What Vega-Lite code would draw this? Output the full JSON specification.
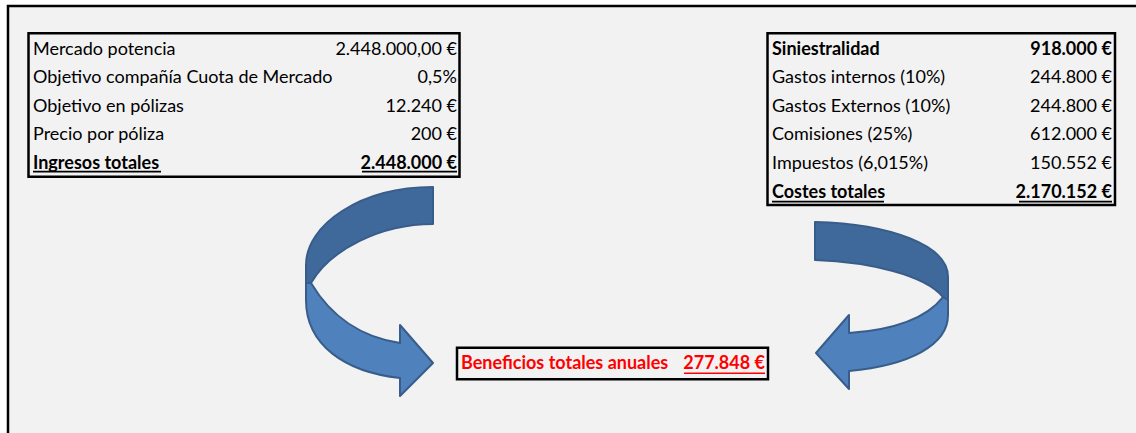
{
  "$schema": "https://vega.github.io/schema/vega-lite/v6.json",
  "width": 1136,
  "height": 433,
  "autosize": {"type": "fit", "contains": "padding"},
  "padding": 0,
  "background": "#ffffff",
  "config": {"view": {"stroke": null}, "text": {"font": "Lato"}},
  "datasets": {
    "frame": [{"x": 8, "x2": 1160, "y": -1.521, "y2": 14}],
    "boxes": [
      {"box": "ingresos", "x": 28.5, "x2": 459.5, "y": -0.567, "y2": 4.447},
      {"box": "costes", "x": 767.5, "x2": 1115, "y": -0.567, "y2": 5.437},
      {"box": "beneficio", "x": 457, "x2": 768, "y": 10.426, "y2": 11.531}
    ],
    "arrows": [
      {"piece": "izq-oscuro", "tone": "oscuro", "x": 370, "y": 8.409},
      {"piece": "izq-claro", "tone": "claro", "x": 370, "y": 8.409},
      {"piece": "der-oscuro", "tone": "oscuro", "x": 880, "y": 8.759},
      {"piece": "der-claro", "tone": "claro", "x": 880, "y": 8.759}
    ],
    "tables": [
      {"table": "ingresos", "row": 0, "label": "Mercado potencia", "value": "2.448.000,00 €", "bold": false, "lx": 33, "vx": 457},
      {"table": "ingresos", "row": 1, "label": "Objetivo compañía Cuota de Mercado", "value": "0,5%", "bold": false, "lx": 33, "vx": 457},
      {"table": "ingresos", "row": 2, "label": "Objetivo en pólizas", "value": "12.240 €", "bold": false, "lx": 33, "vx": 457},
      {"table": "ingresos", "row": 3, "label": "Precio por póliza", "value": "200 €", "bold": false, "lx": 33, "vx": 457},
      {"table": "ingresos", "row": 4, "label": "Ingresos totales", "value": "2.448.000 €", "bold": true, "lx": 33, "vx": 457},
      {"table": "costes", "row": 0, "label": "Siniestralidad", "value": "918.000 €", "bold": true, "lx": 772, "vx": 1112},
      {"table": "costes", "row": 1, "label": "Gastos internos (10%)", "value": "244.800 €", "bold": false, "lx": 772, "vx": 1112},
      {"table": "costes", "row": 2, "label": "Gastos Externos (10%)", "value": "244.800 €", "bold": false, "lx": 772, "vx": 1112},
      {"table": "costes", "row": 3, "label": "Comisiones (25%)", "value": "612.000 €", "bold": false, "lx": 772, "vx": 1112},
      {"table": "costes", "row": 4, "label": "Impuestos (6,015%)", "value": "150.552 €", "bold": false, "lx": 772, "vx": 1112},
      {"table": "costes", "row": 5, "label": "Costes totales", "value": "2.170.152 €", "bold": true, "lx": 772, "vx": 1112}
    ],
    "result": [
      {"label": "Beneficios totales anuales", "value": "277.848 €", "lx": 461, "vx": 765, "row": 11}
    ],
    "underlines": [
      {"color": "black", "x": 33, "x2": 161, "y": 4.27},
      {"color": "black", "x": 362, "x2": 457, "y": 4.27},
      {"color": "black", "x": 772, "x2": 884, "y": 5.32},
      {"color": "black", "x": 1019, "x2": 1112, "y": 5.32},
      {"color": "red", "x": 684, "x2": 765, "y": 11.32}
    ]
  },
  "layer": [
    {
      "data": {"name": "frame"},
      "mark": {"type": "rect", "fill": "#F2F2F2", "stroke": "#000000", "strokeWidth": 2.5, "clip": true},
      "encoding": {
        "x": {"field": "x", "type": "quantitative", "scale": {"domain": [0, 1136], "nice": false, "zero": false}, "axis": null},
        "x2": {"field": "x2"},
        "y": {"field": "y", "type": "quantitative", "scale": {"domain": [-1.731, 13.409], "nice": false, "zero": false, "reverse": true}, "axis": null},
        "y2": {"field": "y2"}
      }
    },
    {
      "data": {"name": "boxes"},
      "mark": {"type": "rect", "fill": null, "fillOpacity": 0, "stroke": "#000000", "strokeWidth": 2.5},
      "encoding": {
        "x": {"field": "x", "type": "quantitative", "axis": null},
        "x2": {"field": "x2"},
        "y": {"field": "y", "type": "quantitative", "axis": null},
        "y2": {"field": "y2"}
      }
    },
    {
      "data": {"name": "arrows"},
      "mark": {"type": "point", "filled": true, "opacity": 1, "strokeWidth": 2, "size": 40000, "strokeJoin": "round"},
      "encoding": {
        "x": {"field": "x", "type": "quantitative", "axis": null},
        "y": {"field": "y", "type": "quantitative", "axis": null},
        "shape": {
          "field": "piece", "type": "nominal", "legend": null,
          "scale": {
            "domain": ["izq-oscuro", "izq-claro", "der-oscuro", "der-claro"],
            "range": [
              "M 0.63 -1.03 C -0.10 -1.03 -0.64 -0.65 -0.64 -0.25 L -0.64 -0.07 L -0.59 -0.07 C -0.40 -0.40 0.10 -0.66 0.63 -0.66 Z",
              "M -0.59 -0.07 C -0.40 0.25 -0.10 0.47 0.30 0.53 L 0.30 0.35 L 0.63 0.73 L 0.30 1.06 L 0.30 0.88 C -0.25 0.82 -0.64 0.55 -0.64 0.10 L -0.64 -0.07 Z",
              "M -0.65 -0.78 C 0.10 -0.76 0.68 -0.55 0.68 -0.23 L 0.68 0.00 L 0.63 -0.03 C 0.45 -0.25 -0.10 -0.38 -0.65 -0.40 Z",
              "M 0.63 -0.03 C 0.45 0.20 0.10 0.30 -0.31 0.33 L -0.31 0.15 L -0.64 0.53 L -0.31 0.89 L -0.31 0.71 C 0.30 0.65 0.68 0.45 0.68 0.15 L 0.68 0.00 Z"
            ]
          }
        },
        "fill": {"field": "tone", "type": "nominal", "legend": null, "scale": {"domain": ["oscuro", "claro"], "range": ["#40699B", "#4F81BD"]}},
        "stroke": {"value": "#385D8A"}
      }
    },
    {
      "data": {"name": "tables"},
      "transform": [{"filter": "!datum.bold"}],
      "mark": {"type": "text", "align": "left", "baseline": "middle", "fontSize": 18, "color": "#000000"},
      "encoding": {
        "x": {"field": "lx", "type": "quantitative", "axis": null},
        "y": {"field": "row", "type": "quantitative", "axis": null},
        "text": {"field": "label"}
      }
    },
    {
      "data": {"name": "tables"},
      "transform": [{"filter": "!datum.bold"}],
      "mark": {"type": "text", "align": "right", "baseline": "middle", "fontSize": 18, "color": "#000000"},
      "encoding": {
        "x": {"field": "vx", "type": "quantitative", "axis": null},
        "y": {"field": "row", "type": "quantitative", "axis": null},
        "text": {"field": "value"}
      }
    },
    {
      "data": {"name": "tables"},
      "transform": [{"filter": "datum.bold"}],
      "mark": {"type": "text", "align": "left", "baseline": "middle", "fontSize": 18, "fontWeight": "bold", "color": "#000000"},
      "encoding": {
        "x": {"field": "lx", "type": "quantitative", "axis": null},
        "y": {"field": "row", "type": "quantitative", "axis": null},
        "text": {"field": "label"}
      }
    },
    {
      "data": {"name": "tables"},
      "transform": [{"filter": "datum.bold"}],
      "mark": {"type": "text", "align": "right", "baseline": "middle", "fontSize": 18, "fontWeight": "bold", "color": "#000000"},
      "encoding": {
        "x": {"field": "vx", "type": "quantitative", "axis": null},
        "y": {"field": "row", "type": "quantitative", "axis": null},
        "text": {"field": "value"}
      }
    },
    {
      "data": {"name": "result"},
      "mark": {"type": "text", "align": "left", "baseline": "middle", "fontSize": 18, "fontWeight": "bold", "color": "#FF0000"},
      "encoding": {
        "x": {"field": "lx", "type": "quantitative", "axis": null},
        "y": {"field": "row", "type": "quantitative", "axis": null},
        "text": {"field": "label"}
      }
    },
    {
      "data": {"name": "result"},
      "mark": {"type": "text", "align": "right", "baseline": "middle", "fontSize": 18, "fontWeight": "bold", "color": "#FF0000"},
      "encoding": {
        "x": {"field": "vx", "type": "quantitative", "axis": null},
        "y": {"field": "row", "type": "quantitative", "axis": null},
        "text": {"field": "value"}
      }
    },
    {
      "data": {"name": "underlines"},
      "mark": {"type": "rule", "strokeWidth": 1.6},
      "encoding": {
        "x": {"field": "x", "type": "quantitative", "axis": null},
        "x2": {"field": "x2"},
        "y": {"field": "y", "type": "quantitative", "axis": null},
        "color": {"field": "color", "type": "nominal", "legend": null, "scale": {"domain": ["black", "red"], "range": ["#000000", "#FF0000"]}}
      }
    }
  ]
}
